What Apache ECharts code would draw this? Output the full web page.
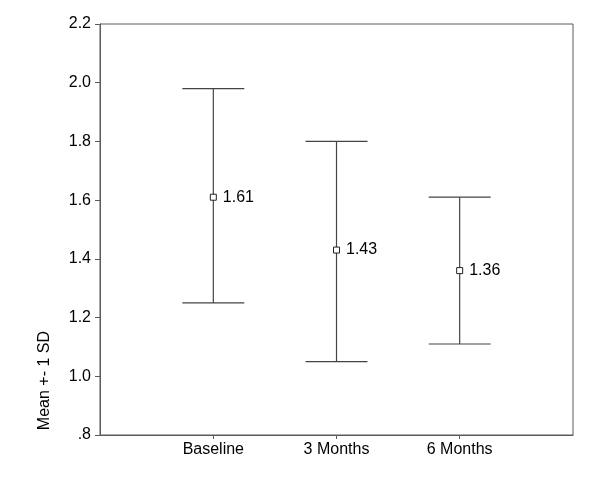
<!DOCTYPE html>
<html>
<head>
<meta charset="utf-8">
<script src="https://cdn.jsdelivr.net/npm/echarts@6/dist/echarts.min.js"></script>
<style>
  html, body { margin: 0; padding: 0; background: #fff; }
  #chart { width: 600px; height: 479px; }
</style>
</head>
<body>
<div id="chart"></div>
<script>
// data
const categories = ['Baseline', '3 Months', '6 Months'];
const means = [1.61, 1.43, 1.36];
const upper = [1.98, 1.80, 1.61];
const lower = [1.25, 1.05, 1.11];

const FONT = 'Liberation Sans, Arial, sans-serif';
const chart = echarts.init(document.getElementById('chart'), null, { renderer: 'canvas' });

// x positions 1..n on a value axis so there is space at both ends
const xs = categories.map((c, i) => i + 1);

const barData = xs.map((x, i) => [x, lower[i], upper[i]]);
const meanData = xs.map((x, i) => [x, means[i]]);

const option = {
  backgroundColor: '#fff',
  animation: false,
  grid: {
    left: 100, right: 27, top: 24, bottom: 44,
    show: true, borderColor: '#5a5a5a', borderWidth: 1
  },
  xAxis: {
    type: 'value',
    min: 0.08, max: 3.92,
    splitLine: { show: false },
    axisLine: { show: true, lineStyle: { color: '#5a5a5a' } },
    axisTick: { show: true, inside: false, length: 4, customValues: xs, lineStyle: { color: '#5a5a5a' } },
    axisLabel: {
      customValues: xs,
      formatter: v => categories[Math.round(v) - 1] || '',
      color: '#000', fontFamily: FONT, fontSize: 16, margin: 7
    }
  },
  yAxis: {
    type: 'value',
    min: 0.8, max: 2.2, interval: 0.2,
    splitLine: { show: false },
    axisLine: { show: true, lineStyle: { color: '#5a5a5a' } },
    axisTick: { show: true, length: 5, lineStyle: { color: '#5a5a5a' } },
    axisLabel: {
      color: '#000', fontFamily: FONT, fontSize: 16, margin: 9,
      formatter: v => {
        const s = v.toFixed(1);
        return s.startsWith('0') ? s.slice(1) : s;
      }
    }
  },
  graphic: [{
    type: 'text',
    left: 37, top: 331,
    rotation: Math.PI / 2,
    style: { text: 'Mean +- 1 SD', fill: '#000', font: '16px ' + FONT }
  }],
  series: [
    {
      type: 'custom',
      data: barData,
      renderItem: (params, api) => {
        const x = api.value(0);
        const lo = api.coord([x, api.value(1)]);
        const hi = api.coord([x, api.value(2)]);
        const hw = 31;
        const st = { stroke: '#444', lineWidth: 1.2 };
        return {
          type: 'group',
          children: [
            { type: 'line', shape: { x1: lo[0], y1: lo[1], x2: hi[0], y2: hi[1] }, style: st },
            { type: 'line', shape: { x1: hi[0] - hw, y1: hi[1], x2: hi[0] + hw, y2: hi[1] }, style: st },
            { type: 'line', shape: { x1: lo[0] - hw, y1: lo[1], x2: lo[0] + hw, y2: lo[1] }, style: st }
          ]
        };
      },
      z: 2
    },
    {
      type: 'scatter',
      data: meanData,
      symbol: 'rect',
      symbolSize: 6,
      itemStyle: { color: '#fff', borderColor: '#222', borderWidth: 1, opacity: 1 },
      label: {
        show: true, position: 'right', distance: 6,
        formatter: p => p.value[1].toFixed(2),
        color: '#000', fontFamily: FONT, fontSize: 16
      },
      emphasis: { disabled: true },
      z: 3
    }
  ]
};

chart.setOption(option);
</script>
</body>
</html>
